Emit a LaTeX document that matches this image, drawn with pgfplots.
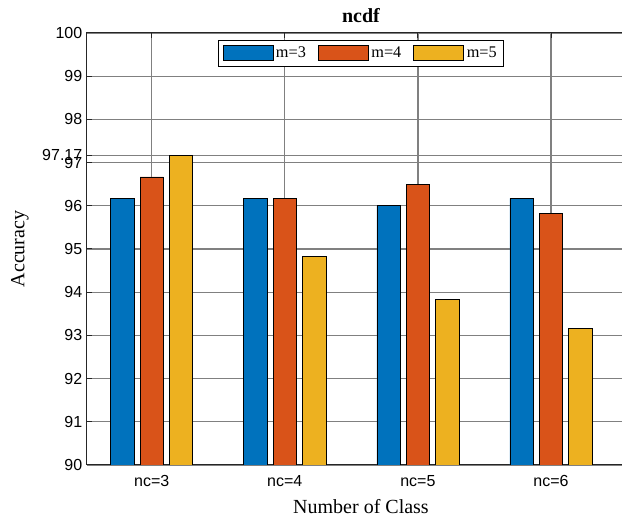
\documentclass[border=0pt]{standalone}
\usepackage{fontspec}
\setmainfont{Liberation Serif}
\newfontfamily\arialfont{Liberation Sans}
\usepackage{pgfplots}
\pgfplotsset{compat=1.18}
\definecolor{mblue}{rgb}{0,0.4470,0.7410}
\definecolor{morange}{rgb}{0.8500,0.3250,0.0980}
\definecolor{myellow}{rgb}{0.9290,0.6940,0.1250}
\begin{document}
\begin{tikzpicture}
\begin{axis}[
  scale only axis,
  width=411pt, height=324pt,
  xmin=-0.486, xmax=3.631,
  ymin=90, ymax=100,
  xtick={0,1,2,3},
  xticklabels={nc=3,nc=4,nc=5,nc=6},
  ytick={90,91,92,93,94,95,96,97,97.17,98,99,100},
  yticklabel style={/pgf/number format/fixed},
  xticklabel style={yshift=-4pt},
  /pgf/number format/assume math mode=true,
  tick label style={font=\arialfont\fontsize{12}{14}\selectfont},
  xmajorgrids, ymajorgrids,
  grid style={color=black!50, line width=0.9pt},
  axis line style={color=black!85, line width=0.75pt},
  tick style={color=black!85, line width=0.75pt},
  major tick length=4pt,
  tick align=inside,
  ylabel={Accuracy},
  xlabel={Number of Class},
  label style={font=\fontsize{15}{18}\selectfont},
  ylabel style={at={(axis description cs:0,0.5)}, anchor=center, yshift=50.25pt},
  xlabel style={at={(axis description cs:0.5,0)}, anchor=center, yshift=-31.5pt},
  title={ncdf},
  title style={font=\bfseries\fontsize{15}{18}\selectfont, at={(axis description cs:0.5,1)}, anchor=base, yshift=1.5pt},
  legend columns=3,
  legend style={at={(0.5,0.984)}, anchor=north, draw=black, line width=0.6pt,
    font=\fontsize{12.2}{14}\selectfont, inner sep=3pt,
    /tikz/every even column/.append style={column sep=7pt}},
  legend image code/.code={\draw[#1, line width=0.6pt] (0pt,-5.6pt) rectangle (37.5pt,5.6pt);},
  bar width=0.175,
]
\addplot[ybar, bar shift=-0.221, fill=mblue, draw=black, line width=0.5pt] coordinates {(0,96.17) (1,96.17) (2,96.0) (3,96.17)};
\addplot[ybar, bar shift=0, fill=morange, draw=black, line width=0.5pt] coordinates {(0,96.67) (1,96.17) (2,96.5) (3,95.83)};
\addplot[ybar, bar shift=0.221, fill=myellow, draw=black, line width=0.5pt] coordinates {(0,97.17) (1,94.83) (2,93.83) (3,93.17)};
\legend{m=3,m=4,m=5}
\end{axis}
\pgfresetboundingbox
\useasboundingbox (-65.25pt,-39pt) rectangle (401.25pt,348.75pt);
\end{tikzpicture}
\end{document}
